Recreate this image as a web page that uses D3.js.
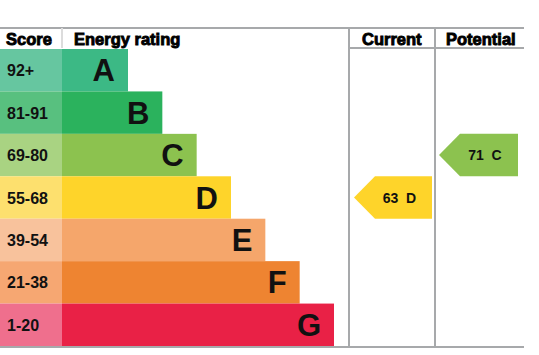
<!DOCTYPE html>
<html><head><meta charset="utf-8">
<script src="https://cdn.jsdelivr.net/npm/d3@7"></script>
<style>body{margin:0;background:#fff}svg{display:block}text{font-family:"Liberation Sans",Arial,sans-serif;font-weight:bold}</style>
</head><body>
<svg id="c" width="539" height="355"></svg>
<script>
const ratings = ["A","B","C","D","E","F","G"];
const scoreRanges = ["92+","81-91","69-80","55-68","39-54","21-38","1-20"];
const rangeMins = [92,81,69,55,39,21,1];
const barLengths = [1,2,3,4,5,6,7];
const barColors = ["#3cb985","#2bb25d","#8cc24f","#fed42a","#f5a66b","#ee8431","#e92146"];
const cellColors = ["#66c6a0","#58c07f","#a9d382","#fde06e","#f8c29c","#f6a772","#ef6f8d"];
const headers = ["Score","Energy rating","Current","Potential"];
const currentScore = 63;
const potentialScore = 71;

(function(){
const svg = d3.select("#c");
const colX = {score:0, bar:62, cur:349, pot:435, end:524};
const topY = 28;
const y = d3.scaleBand().domain(ratings).range([49, 346]).paddingInner(0);
const len = d3.scaleLinear().domain([1,7]).range([128, 334]);
const ratingOf = s => ratings[rangeMins.findIndex(m => s >= m)];
const gray = "#a7a9ab";

svg.selectAll("rect.cell").data(ratings).join("rect")
  .attr("x", colX.score).attr("y", d => y(d)).attr("width", colX.bar - colX.score).attr("height", y.bandwidth())
  .attr("fill", (d,i) => cellColors[i]);
svg.selectAll("text.range").data(scoreRanges).join("text")
  .attr("x", 7).attr("y", (d,i) => y(ratings[i]) + y.bandwidth()/2 + 6)
  .attr("font-size", 16).attr("fill", "#111").text(d => d);

svg.selectAll("rect.bar").data(ratings).join("rect")
  .attr("x", colX.bar).attr("y", d => y(d))
  .attr("width", (d,i) => len(barLengths[i]) - colX.bar).attr("height", y.bandwidth())
  .attr("fill", (d,i) => barColors[i]);
svg.selectAll("text.letter").data(ratings).join("text")
  .attr("x", (d,i) => len(barLengths[i]) - 13).attr("y", d => y(d) + y.bandwidth()/2 + 11)
  .attr("text-anchor", "end").attr("font-size", 31).attr("fill", "#111").text(d => d);

const line = (x1,y1,x2,y2,w) => svg.append("line").attr("x1",x1).attr("y1",y1).attr("x2",x2).attr("y2",y2)
  .attr("stroke", gray).attr("stroke-width", w||2);
line(0, topY, colX.end, topY);
line(colX.cur, 48, colX.end, 48);
line(0, 347, colX.end, 347);
line(colX.bar, topY, colX.bar, 48, 2).attr("stroke","#dcdcdc");
line(colX.cur, topY, colX.cur, 347);
line(colX.pot, topY, colX.pot, 347);

const hx = [6, 74, 362, 446];
svg.selectAll("text.head").data(headers).join("text")
  .attr("x", (d,i) => hx[i]).attr("y", 45).attr("font-size", 16.5)
  .attr("fill", "#000").attr("stroke","#000").attr("stroke-width",0.9).text(d => d);

function arrow(score, x0, x1) {
  const r = ratingOf(score), i = ratings.indexOf(r);
  const yt = y(r), yb = y(r) + y.bandwidth(), ym = (yt+yb)/2;
  const tip = 21;
  svg.append("path").attr("d", `M${x0},${ym}L${x0+tip},${yt}L${x1},${yt}L${x1},${yb}L${x0+tip},${yb}Z`)
    .attr("fill", barColors[i]);
  svg.append("text").attr("x", (x0+tip+x1)/2 - 4).attr("y", ym + 5)
    .attr("text-anchor","middle").attr("font-size", 14).attr("fill","#111")
    .style("white-space","pre").text(score + "  " + r);
}
arrow(currentScore, colX.cur + 5, 432);
arrow(potentialScore, colX.pot + 4, 518);
})();
</script>
</body></html>
